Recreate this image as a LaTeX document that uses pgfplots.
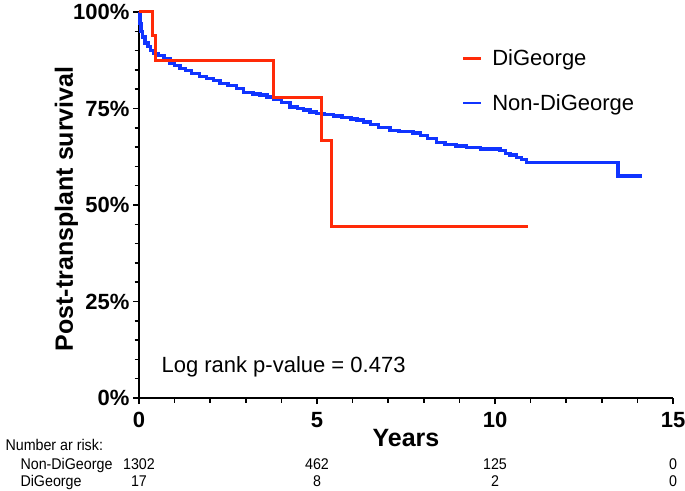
\documentclass[border=0pt]{standalone}
\usepackage{fontspec}
\setmainfont{Liberation Sans}
\newfontfamily\narrowfont[FakeStretch=0.92]{Liberation Sans}
\usepackage{pgfplots}
\pgfplotsset{compat=1.18}
\definecolor{kmred}{RGB}{255,42,8}
\definecolor{kmblue}{RGB}{16,52,255}
\tikzset{risk/.style={font=\narrowfont\fontsize{15.5}{15.5}\selectfont}}

\begin{document}
\begin{tikzpicture}
\useasboundingbox (0,0) rectangle (685pt,490pt);
\begin{axis}[
    at={(139pt,92pt)}, anchor=south west,
    scale only axis,
    width=534pt, height=386pt,
    xmin=0, xmax=15, ymin=0, ymax=100,
    axis x line=bottom, axis y line=left,
    axis line style={-, line width=1.6pt},
    clip=false,
    tick align=outside,
    major tick length=6pt, minor tick length=4.5pt,
    every tick/.style={black, line width=1.5pt},
    xtick={0,5,10,15}, xticklabels={0,5,10,15},
    ytick={0,25,50,75,100}, yticklabels={0\%,25\%,50\%,75\%,100\%},
    minor x tick num=4, minor y tick num=4,
    /pgf/number format/assume math mode=true,
    ticklabel style={font=\bfseries\fontsize{22}{22}\selectfont},
    xticklabel style={yshift=-5pt},
    xlabel={Years},
    xlabel style={at={(axis description cs:0.5,0)}, anchor=base, yshift=-48pt,
                  font=\bfseries\fontsize{25}{25}\selectfont},
    ylabel={Post-transplant survival},
    ylabel style={at={(axis description cs:-0.124,0.49)}, anchor=base, rotate=0,
                  font=\bfseries\fontsize{25}{25}\selectfont},
    legend style={at={(axis description cs:0.604,0.908)}, anchor=north west,
                  draw=none, fill=none, inner sep=0pt, row sep=23pt,
                  /tikz/every odd column/.append style={column sep=8pt},
                  font=\fontsize{22}{26}\selectfont},
    legend cell align=left,
    reverse legend,
    legend image code/.code={\draw[#1, line width=2.6pt] (0pt,0pt) -- (18pt,0pt);},
]

% Non-DiGeorge
\addplot[const plot, kmblue, line width=3.4pt] coordinates {
    (0,100) (0.03,97) (0.06,95) (0.1,93.5) (0.17,92) (0.25,91) (0.33,90)
    (0.42,89.3) (0.55,88.7) (0.7,88) (0.87,86.8) (1.0,86.2) (1.15,85.4)
    (1.3,84.8) (1.48,84) (1.7,83.3) (1.9,82.8) (2.1,82.3) (2.27,81.5)
    (2.5,81) (2.74,80.2) (2.93,79.2) (3.2,78.8) (3.4,78.5) (3.6,78)
    (3.78,77.3) (4.0,76.6) (4.24,75.4) (4.45,75) (4.62,74.6) (4.8,74.1)
    (4.99,73.7) (5.2,73.4) (5.46,73.1) (5.7,72.7) (5.95,72.3) (6.12,72.0)
    (6.3,71.5) (6.5,70.8) (6.72,70.0) (7.05,69.3) (7.3,69.0) (7.7,68.7)
    (7.9,68.0) (8.1,67.3) (8.36,66.2) (8.6,65.7) (8.9,65.3) (9.2,64.9)
    (9.6,64.5) (10.14,64.1) (10.3,63.4) (10.42,63.0) (10.6,62.3)
    (10.75,61.8) (10.89,61.0) (13.46,57.5) (14.12,57.5)
};
\addlegendentry{Non-DiGeorge}

% DiGeorge
\addplot[const plot, kmred, line width=3pt] coordinates {
    (0,100) (0.38,93.8) (0.45,87.5) (3.78,77.8) (5.13,66.7) (5.41,44.4) (10.93,44.4)
};
\addlegendentry{DiGeorge}

\node[anchor=base west, font=\fontsize{22}{22}\selectfont]
    at (rel axis cs:0.0356,0.067) {Log rank p-value = 0.473};

% number at risk
\node[risk, anchor=base west, xshift=-137pt, yshift=-52pt] at (axis cs:0,0) {Number ar risk:};
\node[risk, anchor=base west, xshift=-122pt, yshift=-71pt] at (axis cs:0,0) {Non-DiGeorge};
\node[risk, anchor=base west, xshift=-122pt, yshift=-88pt] at (axis cs:0,0) {DiGeorge};
\node[risk, anchor=base, yshift=-71pt] at (axis cs:0,0) {1302};
\node[risk, anchor=base, yshift=-71pt] at (axis cs:5,0) {462};
\node[risk, anchor=base, yshift=-71pt] at (axis cs:10,0) {125};
\node[risk, anchor=base, yshift=-71pt] at (axis cs:15,0) {0};
\node[risk, anchor=base, yshift=-88pt] at (axis cs:0,0) {17};
\node[risk, anchor=base, yshift=-88pt] at (axis cs:5,0) {8};
\node[risk, anchor=base, yshift=-88pt] at (axis cs:10,0) {2};
\node[risk, anchor=base, yshift=-88pt] at (axis cs:15,0) {0};
\end{axis}
\end{tikzpicture}
\end{document}
